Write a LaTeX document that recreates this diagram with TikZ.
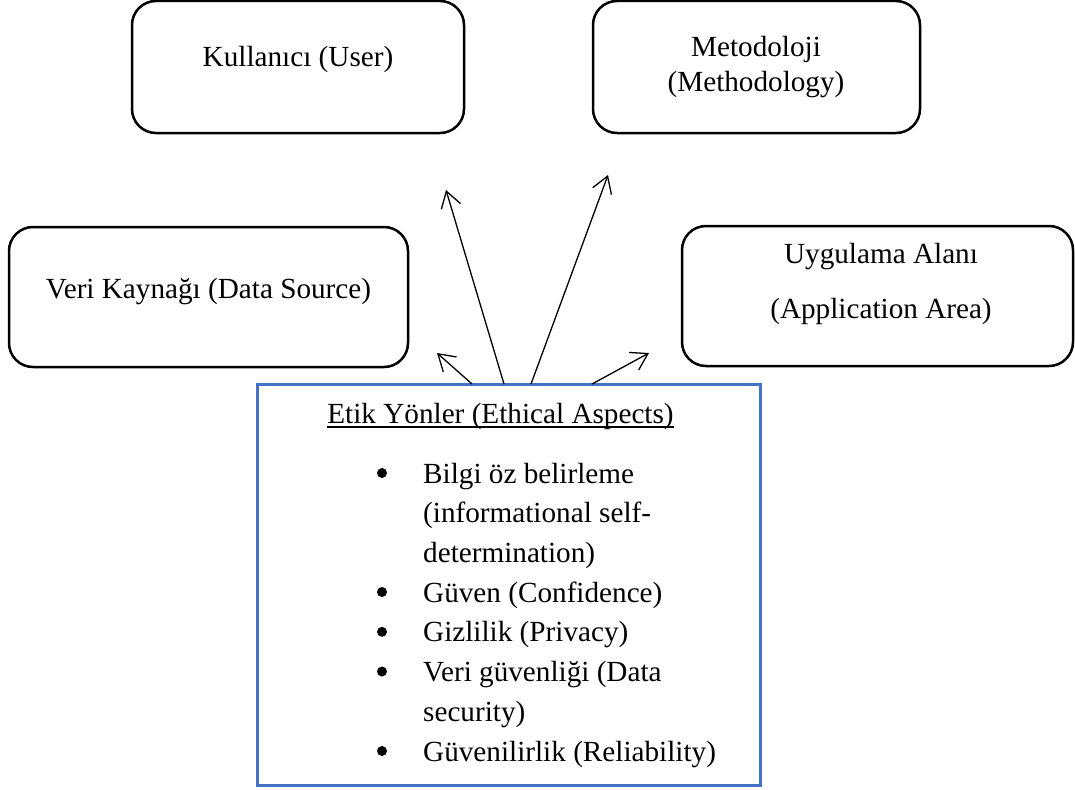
\documentclass[tikz,border=0pt]{standalone}
\usepackage{fontspec}
\setmainfont{Liberation Serif}
\usetikzlibrary{arrows.meta}
\definecolor{boxblue}{RGB}{68,114,196}
\begin{document}
\begin{tikzpicture}[x=1pt,y=-1pt,
  rbox/.style={draw=black, line width=2.5pt, rounded corners=24pt, inner sep=0pt, rectangle},
  bbox/.style={draw=boxblue, line width=3pt, inner sep=0pt, rectangle},
  txt/.style={font=\fontsize{29.2}{34}\selectfont, inner sep=0pt, anchor=base},
  itm/.style={txt, anchor=base west},
  bul/.style={circle, fill=black, inner sep=0pt, minimum size=10pt},
  arr/.style={-{Straight Barb[length=16pt,width=20pt,line width=1.3pt]}, line width=1.3pt}]
\useasboundingbox (0,0) rectangle (1075,789);

% boxes
\node[rbox, minimum width=332pt, minimum height=132pt] (user) at (298,67) {};
\node[rbox, minimum width=327pt, minimum height=132pt] (meth) at (756.5,67) {};
\node[rbox, minimum width=399pt, minimum height=140pt] (data) at (208.5,297) {};
\node[rbox, minimum width=391pt, minimum height=140pt] (app) at (877.5,296) {};
\node[bbox, minimum width=503pt, minimum height=401pt] (etik) at (508.5,584.5) {};

% box texts
\node[txt] (usert) at (298,67) {Kullanıcı (User)};
\node[txt] (metht1) at (756,57) {Metodoloji};
\node[txt] (metht2) at (756,92) {(Methodology)};
\node[txt] (datat) at (208.5,298) {Veri Kaynağı (Data Source)};
\node[txt] (appt1) at (881,263) {Uygulama Alanı};
\node[txt] (appt2) at (881,318) {(Application Area)};

% ethical aspects
\node[txt] (title) at (500.5,423) {Etik Yönler (Ethical Aspects)};
\draw[line width=1.3pt] ([yshift=-4pt]title.base west) -- ([yshift=-4pt]title.base east);

\node[bul] (b1) at (382,473) {};
\node[itm] (i1a) at (423,483) {Bilgi öz belirleme};
\node[itm] (i1b) at (423,522.7) {(informational self-};
\node[itm] (i1c) at (423,562.4) {determination)};
\node[bul] (b2) at (382,592) {};
\node[itm] (i2) at (423,602) {Güven (Confidence)};
\node[bul] (b3) at (382,631.8) {};
\node[itm] (i3) at (423,641.8) {Gizlilik (Privacy)};
\node[bul] (b4) at (382,671.5) {};
\node[itm] (i4a) at (423,681.5) {Veri güvenliği (Data};
\node[itm] (i4b) at (423,721.2) {security)};
\node[bul] (b5) at (382,751) {};
\node[itm] (i5) at (423,761) {Güvenilirlik (Reliability)};

% arrows
\coordinate (s1) at (472,384);
\coordinate (e1) at (437,353);
\coordinate (s2) at (504,384);
\coordinate (e2) at (446,190);
\coordinate (s3) at (531,384);
\coordinate (e3) at (608,175);
\coordinate (s4) at (592,384);
\coordinate (e4) at (649,353);
\draw[arr] (s1) -- (e1);
\draw[arr] (s2) -- (e2);
\draw[arr] (s3) -- (e3);
\draw[arr] (s4) -- (e4);
\end{tikzpicture}
\end{document}
